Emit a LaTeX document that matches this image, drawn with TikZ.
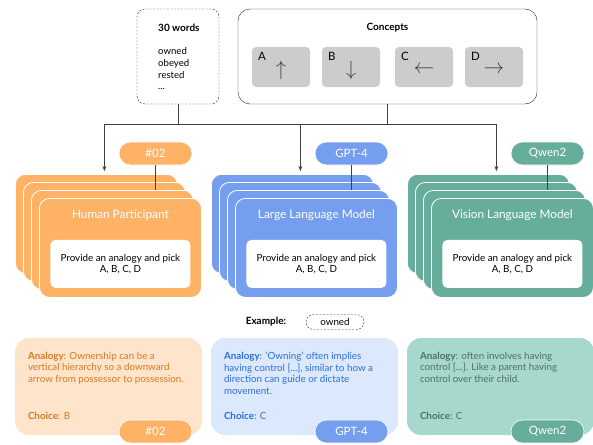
\documentclass[tikz,border=0pt]{standalone}
\usepackage{fontspec}
\setmainfont{Lato}
\usetikzlibrary{positioning,arrows.meta}

\definecolor{horange}{HTML}{FDB266}
\definecolor{hblue}{HTML}{769EEE}
\definecolor{hgreen}{HTML}{67AD9B}
\definecolor{lorange}{HTML}{FDE4CA}
\definecolor{lblue}{HTML}{DCE8FB}
\definecolor{lgreen}{HTML}{A7D8CE}
\definecolor{torange}{HTML}{D67A22}
\definecolor{tblue}{HTML}{2D6FDB}
\definecolor{tgreen}{HTML}{4F6E66}
\definecolor{keygray}{HTML}{CCCCCC}

\begin{document}
\begin{tikzpicture}[
    x=1pt, y=-1pt,
    font=\fontsize{9.8}{11.7}\selectfont,
    card/.style={draw=white, line width=0.8pt, rounded corners=10pt, anchor=north west, minimum width=162pt, minimum height=99pt, inner sep=0pt},
    prompt/.style={fill=white, rounded corners=5pt, minimum width=140pt, minimum height=48pt, align=center, inner sep=0pt},
    cardtitle/.style={text=white, font=\fontsize{11.8}{13}\selectfont},
    tag/.style={draw=white, line width=0.6pt, rounded corners=11.5pt, minimum width=73pt, minimum height=23pt, text=white, font=\fontsize{11.5}{12}\selectfont, inner sep=0pt},
    keybox/.style={fill=keygray, rounded corners=4pt, minimum width=58pt, minimum height=40pt, inner sep=0pt},
    answer/.style={rounded corners=14pt, minimum width=187pt, minimum height=97pt, inner sep=0pt},
    answertext/.style={align=left, anchor=north west, inner sep=0pt},
    head/.style={font=\bfseries\fontsize{10}{11}\selectfont},
    dots/.style={draw=black!85, dash pattern=on 2pt off 1.5pt},
    line/.style={draw=black!75, line width=0.7pt},
    arrow/.style={line, -{Stealth[length=5pt,width=4pt]}, shorten >=3pt}
]
\useasboundingbox (0,0) rectangle (593,444);

% inputs
\node[dots, rounded corners=8pt, minimum width=82pt, minimum height=95pt] (words) at (178,56.5) {};
\node[head, anchor=west, inner sep=0pt] (words-head) at (158,28) {30 words};
\node[answertext, font=\fontsize{9.6}{11.7}\selectfont] (words-list) at (158,47.5) {owned\\obeyed\\rested\\...};

\node[draw=black!85, rounded corners=12pt, minimum width=299pt, minimum height=95pt] (concepts) at (387.5,56.5) {};
\node[head] (concepts-head) at (387.5,28) {Concepts};
\foreach \k/\x/\sym in {A/281/\uparrow, B/351/\downarrow, C/424/\leftarrow, D/494/\rightarrow} {
  \node[keybox] (key\k) at (\x,67) {};
  \node[anchor=north west, inner sep=0pt, font=\fontsize{11.5}{12}\selectfont] (key\k-letter) at ([shift={(6pt,-5pt)}]key\k.north west) {\k};
  \node[text=black!75, font=\fontsize{20}{20}\selectfont] (key\k-arrow) at ([yshift=-3pt]key\k.center) {$\sym$};
}

\coordinate (bus) at (0,124);
\draw[line] (words) -- (words |- bus);
\draw[line] (concepts) -- (concepts |- bus);

% participants
\foreach \nm/\x/\col/\ttl/\tg in {human/15/horange/Human Participant/\#02, llm/211/hblue/Large Language Model/GPT-4, vision/407/hgreen/Vision Language Model/Qwen2} {
  \foreach \k in {0,...,3}
    \node[card, fill=\col] (\nm-\k) at (\x+8*\k,174+8*\k) {};
  \node[cardtitle] (\nm-title) at ([yshift=-17pt]\nm-3.north) {\ttl};
  \node[prompt] (\nm-prompt) at ([yshift=-16pt]\nm-3.center) {Provide an analogy and pick\\A, B, C, D};
  \node[tag, fill=\col] (\nm-tag) at (\x+140.5,153.5) {\tg};
  \draw[line] (\nm-tag) -- (\nm-tag |- \nm-2.north);
  \draw[arrow] (bus -| \nm-1.north) -- (\nm-1.north |- \nm-0.north);
}
\draw[line] (bus -| human-1.north) -- (bus -| vision-1.north);

% example answers
\node[head] (example) at (266,322) {Example:};
\node[dots, rounded corners=7.5pt, minimum width=58pt, minimum height=15pt, inner sep=0pt, right=16pt of example] (example-word) {owned};

\node[answer, fill=lorange] (human-answer) at (108.5,386.5) {};
\node[answertext, text=torange] (human-analogy) at ([shift={(13pt,-14pt)}]human-answer.north west) {\textbf{Analogy}: Ownership can be a\\vertical hierarchy so a downward\\arrow from possessor to possession.};
\node[answertext, anchor=south west, text=torange] (human-choice) at ([shift={(13pt,15pt)}]human-answer.south west) {\textbf{Choice}: B};
\node[tag, fill=horange] (human-tag2) at (human-tag |- 0,431.5) {\#02};

\node[answer, fill=lblue] (llm-answer) at (304.5,386.5) {};
\node[answertext, text=tblue] (llm-analogy) at ([shift={(13pt,-14pt)}]llm-answer.north west) {\textbf{Analogy}: 'Owning' often implies\\having control [...], similar to how a\\direction can guide or dictate\\movement.};
\node[answertext, anchor=south west, text=tblue] (llm-choice) at ([shift={(13pt,15pt)}]llm-answer.south west) {\textbf{Choice}: C};
\node[tag, fill=hblue] (llm-tag2) at (llm-tag |- 0,431.5) {GPT-4};

\node[answer, fill=lgreen] (vision-answer) at (500.5,386.5) {};
\node[answertext, text=tgreen] (vision-analogy) at ([shift={(13pt,-14pt)}]vision-answer.north west) {\textbf{Analogy}: often involves having\\control [...]. Like a parent having\\control over their child.};
\node[answertext, anchor=south west, text=tgreen] (vision-choice) at ([shift={(13pt,15pt)}]vision-answer.south west) {\textbf{Choice}: C};
\node[tag, fill=hgreen] (vision-tag2) at (vision-tag |- 0,431.5) {Qwen2};
\end{tikzpicture}
\end{document}
